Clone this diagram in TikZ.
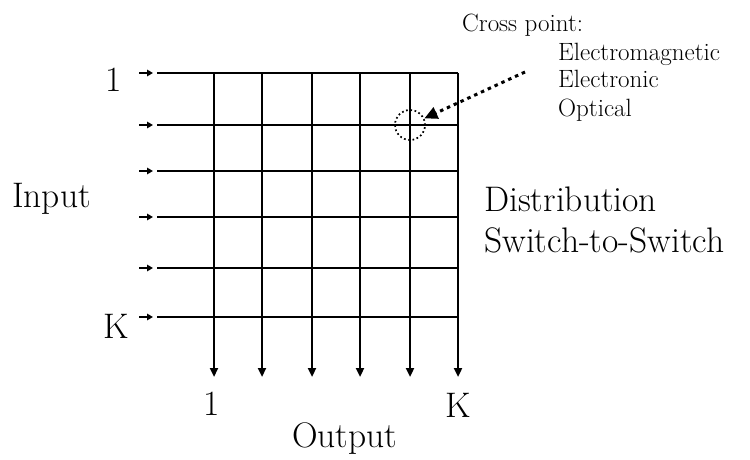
\documentclass[tikz,border=0pt]{standalone}
\usepackage{tikz}
\usetikzlibrary{arrows.meta}

\begin{document}
\begin{tikzpicture}[
  x=1pt, y=-1pt,
  wire/.style={line width=2.7pt},
  outwire/.style={line width=2.7pt, -{Triangle[length=9pt,width=8pt]}},
  feed/.style={line width=2.2pt, -{Triangle[length=6pt,width=6.5pt]}},
  lab/.style={inner sep=0pt, font=\fontsize{35.5}{38}\selectfont},
  small/.style={inner sep=0pt, font=\fontsize{25}{28}\selectfont},
  xring/.style={circle, draw, line width=1.7pt, dash pattern=on 1.7pt off 2.6pt, minimum size=30pt, inner sep=0pt},
  xarrow/.style={line width=3pt, dash pattern=on 3.5pt off 4pt, -{Triangle[length=13pt,width=12pt]}}
]
\useasboundingbox (0,0) rectangle (750,460);

% ===================== Grid ends =====================
    % Row ends
    \coordinate (r1w) at (157,73);  \coordinate (r1e) at (458,73);
    \coordinate (r2w) at (157,125); \coordinate (r2e) at (458,125);
    \coordinate (r3w) at (157,171); \coordinate (r3e) at (458,171);
    \coordinate (r4w) at (157,217); \coordinate (r4e) at (458,217);
    \coordinate (r5w) at (157,268); \coordinate (r5e) at (458,268);
    \coordinate (r6w) at (157,317); \coordinate (r6e) at (458,317);

    % Column ends
    \coordinate (c1n) at (214,73); \coordinate (c1s) at (214,377);
    \coordinate (c2n) at (262,73); \coordinate (c2s) at (262,377);
    \coordinate (c3n) at (312,73); \coordinate (c3s) at (312,377);
    \coordinate (c4n) at (360,73); \coordinate (c4s) at (360,377);
    \coordinate (c5n) at (410,73); \coordinate (c5s) at (410,377);
    \coordinate (c6n) at (458,73); \coordinate (c6s) at (458,377);

% ===================== Input lines =====================
    \draw[wire] (r1w)--(r1e);
    \draw[wire] (r2w)--(r2e);
    \draw[wire] (r3w)--(r3e);
    \draw[wire] (r4w)--(r4e);
    \draw[wire] (r5w)--(r5e);
    \draw[wire] (r6w)--(r6e);

    % Feed arrows
    \coordinate (f1) at (139,73);  \draw[feed] (f1)--([xshift=-4pt]r1w);
    \coordinate (f2) at (139,125); \draw[feed] (f2)--([xshift=-4pt]r2w);
    \coordinate (f3) at (139,171); \draw[feed] (f3)--([xshift=-4pt]r3w);
    \coordinate (f4) at (139,217); \draw[feed] (f4)--([xshift=-4pt]r4w);
    \coordinate (f5) at (139,268); \draw[feed] (f5)--([xshift=-4pt]r5w);
    \coordinate (f6) at (139,317); \draw[feed] (f6)--([xshift=-4pt]r6w);

% ===================== Output lines =====================
    \draw[outwire] (c1n)--(c1s);
    \draw[outwire] (c2n)--(c2s);
    \draw[outwire] (c3n)--(c3s);
    \draw[outwire] (c4n)--(c4s);
    \draw[outwire] (c5n)--(c5s);
    \draw[outwire] (c6n)--(c6s);

% ===================== Cross point =====================
    \node[xring] (xp) at (410,125) {};
    \coordinate (xsrc) at (525,72);
    \draw[xarrow] (xsrc)--(xp);

    \node[small, anchor=base west] (xlab) at (462,32) {Cross point:};
    \node[small, anchor=base west] (xem)  at (558,60) {Electromagnetic};
    \node[small, anchor=base west] (xel)  at (558,88) {Electronic};
    \node[small, anchor=base west] (xop)  at (558,116) {Optical};

% ===================== Labels =====================
    \node[lab, anchor=base] (in1) at (114,92)  {1};
    \node[lab, anchor=base] (inK) at (116,338) {K};
    \node[lab, anchor=base] (out1) at (212,415) {1};
    \node[lab, anchor=base] (outK) at (458,417) {K};

    \node[lab, anchor=base west] (input)  at (12,207)  {Input};
    \node[lab, anchor=base west] (output) at (292,447) {Output};
    \node[lab, anchor=base west] (dist)   at (484,211) {Distribution};
    \node[lab, anchor=base west] (s2s)    at (484,252) {Switch-to-Switch};

\end{tikzpicture}
\end{document}
